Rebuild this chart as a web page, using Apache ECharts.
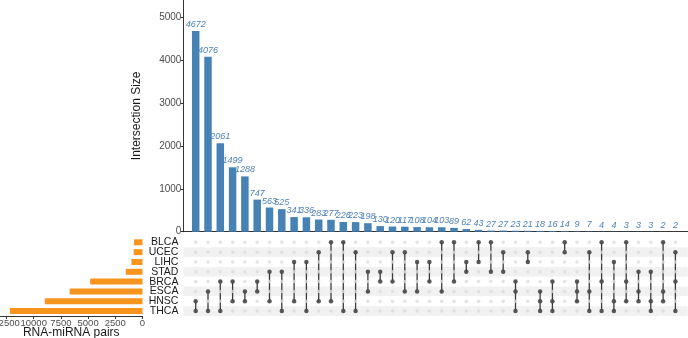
<!DOCTYPE html>
<html>
<head>
<meta charset="utf-8">
<script src="https://cdn.jsdelivr.net/npm/echarts@6/dist/echarts.min.js"></script>
<style>
  html, body { margin: 0; padding: 0; background: #fff; }
  #main { width: 688px; height: 338px; }
</style>
</head>
<body>
<div id="main"></div>
<script type="text/javascript">
// sets, top to bottom in the matrix
var sets = ['BLCA', 'UCEC', 'LIHC', 'STAD', 'BRCA', 'ESCA', 'HNSC', 'THCA'];
var setSizes = [788, 814, 1019, 1538, 4807, 6699, 8981, 12196];

// intersection sizes, left to right
var interSizes = [4672, 4076, 2061, 1499, 1288, 747, 563, 525, 341, 336,
                  283, 277, 226, 223, 198, 130, 120, 117, 108, 104,
                  103, 89, 62, 43, 27, 27, 23, 21, 18, 16,
                  14, 9, 7, 4, 4, 3, 3, 3, 2, 2];

// members of each intersection
var interSets = [
    ['HNSC', 'THCA'], ['ESCA', 'THCA'], ['BRCA', 'THCA'], ['BRCA', 'HNSC'], ['ESCA', 'HNSC'],
    ['BRCA', 'ESCA'], ['STAD', 'HNSC'], ['STAD', 'THCA'], ['LIHC', 'HNSC'], ['LIHC', 'THCA'],
    ['UCEC', 'HNSC'], ['BLCA', 'HNSC'], ['BLCA', 'THCA'], ['UCEC', 'THCA'], ['STAD', 'ESCA'],
    ['STAD', 'BRCA'], ['UCEC', 'BRCA'], ['UCEC', 'ESCA'], ['LIHC', 'ESCA'], ['LIHC', 'BRCA'],
    ['BLCA', 'ESCA'], ['BLCA', 'BRCA'], ['LIHC', 'STAD'], ['BLCA', 'LIHC'], ['BLCA', 'STAD'],
    ['UCEC', 'STAD'], ['BRCA', 'ESCA', 'THCA'], ['UCEC', 'LIHC'], ['ESCA', 'HNSC', 'THCA'], ['BRCA', 'HNSC', 'THCA'],
    ['BLCA', 'UCEC'], ['BRCA', 'ESCA', 'HNSC'], ['UCEC', 'ESCA', 'THCA'], ['BLCA', 'BRCA', 'THCA'], ['LIHC', 'HNSC', 'THCA'],
    ['BLCA', 'BRCA', 'HNSC'], ['STAD', 'ESCA', 'HNSC'], ['STAD', 'HNSC', 'THCA'], ['BLCA', 'ESCA', 'HNSC'], ['UCEC', 'BRCA', 'THCA']
];

var intersectionTicks = [0, 1000, 2000, 3000, 4000, 5000];
var setSizeTicks = [0, 2500, 5000, 7500, 10000, 12500];

var font = 'Liberation Sans, Arial, sans-serif';
var plain = function (v) { return String(v); };

// build series data
var barData = interSizes.map(function (v, i) { return [i + 1, v]; });
var bgDots = [], onDots = [], links = [];
interSizes.forEach(function (v, i) {
    sets.forEach(function (s) { bgDots.push([i + 1, s]); });
    var idx = interSets[i].map(function (s) { return sets.indexOf(s); });
    interSets[i].forEach(function (s) { onDots.push([i + 1, s]); });
    links.push([i + 1, Math.min.apply(null, idx), Math.max.apply(null, idx)]);
});

var myChart = echarts.init(document.getElementById('main'));
var option = {
    animation: false,
    textStyle: { fontFamily: font },
    grid: [
        { left: 183.4, top: 0, width: 504.3, height: 231.7, outerBoundsMode: 'none' },
        { left: 183.4, top: 237.4, width: 504.3, height: 78.6, outerBoundsMode: 'none' },
        { left: 0, top: 237.4, width: 142.5, height: 78.6, outerBoundsMode: 'none' }
    ],
    xAxis: [
        {
            gridIndex: 0, type: 'value', min: 0, max: 41,
            axisLine: { show: true, onZero: false, lineStyle: { color: '#000', width: 0.8 } },
            axisTick: { show: false }, axisLabel: { show: false }, splitLine: { show: false }
        },
        {
            gridIndex: 1, type: 'value', min: 0, max: 41, show: false
        },
        {
            gridIndex: 2, type: 'value', min: 0, max: 13100, inverse: true,
            axisLine: { show: true, lineStyle: { color: '#000', width: 0.8 } },
            axisTick: { show: true, length: 3, lineStyle: { color: '#333' }, customValues: setSizeTicks },
            axisLabel: {
                fontSize: 9.5, color: '#4d4d4d', margin: 2, customValues: setSizeTicks,
                formatter: plain, hideOverlap: false, showMinLabel: true, showMaxLabel: true
            },
            splitLine: { show: false },
            name: 'RNA-miRNA pairs', nameLocation: 'middle', nameGap: 11, nameMoveOverlap: false,
            nameTextStyle: { fontSize: 12, color: '#1a1a1a' }
        }
    ],
    yAxis: [
        {
            gridIndex: 0, type: 'value', min: 0, max: 5395,
            axisLine: { show: true, lineStyle: { color: '#000', width: 0.8 } },
            axisTick: { show: true, length: 3, lineStyle: { color: '#333' }, customValues: intersectionTicks },
            axisLabel: { fontSize: 10, color: '#4d4d4d', margin: 2, customValues: intersectionTicks, formatter: plain },
            splitLine: { show: false },
            name: 'Intersection Size', nameLocation: 'middle', nameGap: 41, nameRotate: 90,
            nameMoveOverlap: false,
            nameTextStyle: { fontSize: 12, color: '#1a1a1a' }
        },
        {
            gridIndex: 1, type: 'category', data: sets, inverse: true,
            axisLine: { show: false }, axisTick: { show: false },
            axisLabel: { fontSize: 10.5, color: '#1a1a1a', margin: 5, interval: 0 },
            splitArea: { show: true, interval: 0, areaStyle: { color: ['#ffffff', '#f1f1f1'] } }
        },
        {
            gridIndex: 2, type: 'category', data: sets, inverse: true, show: false
        }
    ],
    series: [
        {
            type: 'bar', xAxisIndex: 0, yAxisIndex: 0, data: barData,
            barWidth: 7.5, itemStyle: { color: '#4682B4' },
            label: {
                show: true, position: 'top', distance: 2, fontSize: 9, fontStyle: 'italic',
                color: '#4f82b8', formatter: function (p) { return p.value[1]; }
            }
        },
        {
            type: 'scatter', xAxisIndex: 1, yAxisIndex: 1, data: bgDots,
            symbolSize: 3.5, itemStyle: { color: '#dcdcdc' }, silent: true
        },
        {
            type: 'custom', xAxisIndex: 1, yAxisIndex: 1, data: links,
            encode: { x: 0, y: [1, 2] },
            renderItem: function (params, api) {
                var a = api.coord([api.value(0), api.value(1)]);
                var b = api.coord([api.value(0), api.value(2)]);
                return {
                    type: 'line',
                    shape: { x1: a[0], y1: a[1], x2: b[0], y2: b[1] },
                    style: { stroke: '#3b3b3b', lineWidth: 1.3 }
                };
            }
        },
        {
            type: 'scatter', xAxisIndex: 1, yAxisIndex: 1, data: onDots,
            symbolSize: 4.5, itemStyle: { color: '#333333' }
        },
        {
            type: 'bar', xAxisIndex: 2, yAxisIndex: 2, data: setSizes,
            barWidth: 6, itemStyle: { color: '#F7941D' }
        }
    ]
};
myChart.setOption(option);
</script>
</body>
</html>
